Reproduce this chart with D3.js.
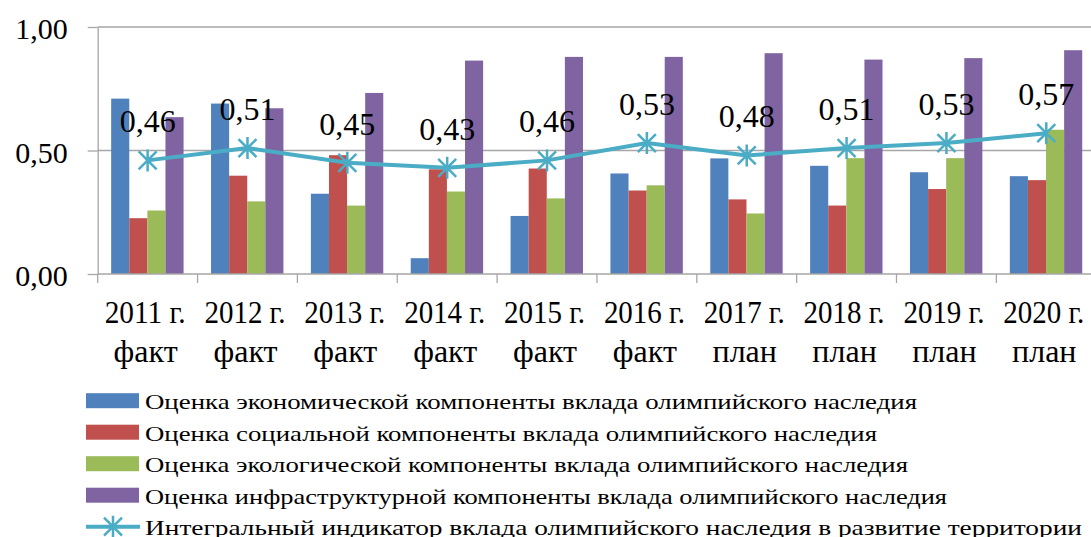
<!DOCTYPE html>
<html>
<head>
<meta charset="utf-8">
<script src="https://cdn.jsdelivr.net/npm/d3@7"></script>
<style>
  body { margin: 0; background: #fff; }
</style>
</head>
<body>
<div id="chart"></div>
<script>
const years = ['2011 г.', '2012 г.', '2013 г.', '2014 г.', '2015 г.', '2016 г.', '2017 г.', '2018 г.', '2019 г.', '2020 г.'];
const status = ['факт', 'факт', 'факт', 'факт', 'факт', 'факт', 'план', 'план', 'план', 'план'];

const econ = [0.71, 0.69, 0.325, 0.064, 0.235, 0.407, 0.468, 0.438, 0.412, 0.396];
const social = [0.226, 0.398, 0.481, 0.424, 0.427, 0.338, 0.302, 0.277, 0.344, 0.38];
const ecology = [0.257, 0.294, 0.277, 0.334, 0.306, 0.359, 0.245, 0.469, 0.469, 0.584];
const infra = [0.635, 0.671, 0.733, 0.864, 0.879, 0.879, 0.894, 0.868, 0.874, 0.906];
const integral = [0.46, 0.51, 0.45, 0.43, 0.46, 0.53, 0.48, 0.51, 0.53, 0.57];

const yTicks = [0, 0.5, 1];

const seriesNames = [
  'Оценка экономической компоненты вклада олимпийского наследия',
  'Оценка социальной компоненты вклада олимпийского наследия',
  'Оценка экологической компоненты вклада олимпийского наследия',
  'Оценка инфраструктурной компоненты вклада олимпийского наследия'
];
const lineName = 'Интегральный индикатор вклада олимпийского наследия в развитие территории';

const colors = ['#4f81bd', '#c0504d', '#9bbb59', '#8064a2'];
const lineColor = '#4bacc6';
const bars = [econ, social, ecology, infra];

const W = 1091, H = 537;
const FONT = '"Liberation Serif"';
const margin = { top: 27, left: 97.7, bottom: 274 };
const plotRight = 1096.2;
const comma = d => d3.format('.2f')(d).replace('.', ',');

const svg = d3.select('#chart').append('svg')
  .attr('width', W)
  .attr('height', H);

const x0 = d3.scaleBand()
  .domain(d3.range(years.length))
  .range([margin.left, plotRight]);

const x1 = d3.scaleBand()
  .domain(d3.range(bars.length))
  .range([x0.bandwidth() * 0.135, x0.bandwidth() * 0.86]);

const y = d3.scaleLinear()
  .domain([0, 1])
  .range([margin.bottom, margin.top]);

// gridlines
svg.append('g')
  .selectAll('line')
  .data(yTicks.filter(d => d > 0))
  .enter().append('line')
  .attr('x1', margin.left)
  .attr('x2', W)
  .attr('y1', d => y(d))
  .attr('y2', d => y(d))
  .attr('stroke', '#a6a6a6')
  .attr('stroke-width', 1.3);

// bars
bars.forEach((vals, s) => {
  svg.append('g')
    .selectAll('rect')
    .data(vals)
    .enter().append('rect')
    .attr('x', (d, i) => x0(i) + x1(s))
    .attr('y', d => y(d))
    .attr('width', x1.bandwidth())
    .attr('height', d => y(0) - y(d))
    .attr('fill', colors[s]);
});

// y axis
const yAxis = svg.append('g')
  .attr('transform', `translate(${margin.left},0)`)
  .call(d3.axisLeft(y)
    .tickValues(yTicks)
    .tickFormat(comma)
    .tickSizeInner(10)
    .tickSizeOuter(0)
    .tickPadding(20));
yAxis.select('.domain').attr('stroke', '#a6a6a6').attr('stroke-width', 1.3);
yAxis.selectAll('line').attr('stroke', '#a6a6a6').attr('stroke-width', 1.3);
yAxis.selectAll('text')
  .style('font-family', FONT)
  .attr('font-size', 30)
  .attr('fill', '#000')
  .attr('dy', '0.39em');

// x axis
const xAxis = svg.append('g')
  .attr('transform', `translate(0,${margin.bottom})`);
xAxis.append('line')
  .attr('x1', margin.left)
  .attr('x2', W)
  .attr('stroke', '#a6a6a6')
  .attr('stroke-width', 1.3);
xAxis.selectAll('.tk')
  .data(d3.range(years.length + 1))
  .enter().append('line')
  .attr('class', 'tk')
  .attr('x1', i => margin.left + i * x0.step())
  .attr('x2', i => margin.left + i * x0.step())
  .attr('y1', 0)
  .attr('y2', 9)
  .attr('stroke', '#a6a6a6')
  .attr('stroke-width', 1.3);

const catLabels = svg.append('g');
catLabels.selectAll('.yr')
  .data(years)
  .enter().append('text')
  .attr('class', 'yr')
  .attr('x', (d, i) => x0(i) + x0.bandwidth() / 2 - 2.5)
  .attr('y', 323)
  .attr('text-anchor', 'middle')
  .style('font-family', FONT)
  .attr('font-size', 32)
  .attr('textLength', 81)
  .attr('lengthAdjust', 'spacingAndGlyphs')
  .text(d => d);
catLabels.selectAll('.st')
  .data(status)
  .enter().append('text')
  .attr('class', 'st')
  .attr('x', (d, i) => x0(i) + x0.bandwidth() / 2 - 2)
  .attr('y', 362)
  .attr('text-anchor', 'middle')
  .style('font-family', FONT)
  .attr('font-size', 32)
  .text(d => d);

// integral line
const cx = i => x0(i) + x0.bandwidth() / 2;
const line = d3.line()
  .x((d, i) => cx(i))
  .y(d => y(d));

svg.append('path')
  .datum(integral)
  .attr('fill', 'none')
  .attr('stroke', lineColor)
  .attr('stroke-width', 4)
  .attr('stroke-linejoin', 'round')
  .attr('d', line);

const starPath = 'M-9,-9L9,9M-9,9L9,-9M0,-11L0,11';
svg.append('g')
  .selectAll('path')
  .data(integral)
  .enter().append('path')
  .attr('transform', (d, i) => `translate(${cx(i)},${y(d)})`)
  .attr('d', starPath)
  .attr('stroke', lineColor)
  .attr('stroke-width', 2.5)
  .attr('fill', 'none');

svg.append('g')
  .selectAll('text')
  .data(integral)
  .enter().append('text')
  .attr('x', (d, i) => cx(i))
  .attr('y', d => y(d) - 28)
  .attr('text-anchor', 'middle')
  .style('font-family', FONT)
  .attr('font-size', 32)
  .attr('fill', '#000')
  .text(comma);

// legend
const legend = svg.append('g').attr('transform', 'translate(86,0)');
const legendWidths = [772, 732, 763, 802];
seriesNames.forEach((name, i) => {
  const cy = 400.7 + i * 31.5;
  legend.append('rect')
    .attr('x', 0)
    .attr('y', cy - 7.5)
    .attr('width', 53)
    .attr('height', 15)
    .attr('fill', colors[i]);
  legend.append('text')
    .attr('x', 59)
    .attr('y', cy + 8.3)
    .style('font-family', FONT)
    .attr('font-size', 22)
    .attr('fill', '#000')
    .attr('textLength', legendWidths[i])
    .attr('lengthAdjust', 'spacingAndGlyphs')
    .text(name);
});
const ly = 400.7 + 4 * 31.5;
legend.append('line')
  .attr('x1', 0).attr('x2', 54)
  .attr('y1', ly).attr('y2', ly)
  .attr('stroke', lineColor)
  .attr('stroke-width', 4);
legend.append('path')
  .attr('transform', `translate(27,${ly})`)
  .attr('d', starPath)
  .attr('stroke', lineColor)
  .attr('stroke-width', 2.5)
  .attr('fill', 'none');
legend.append('text')
  .attr('x', 59)
  .attr('y', ly + 8.3)
  .style('font-family', FONT)
  .attr('font-size', 22)
  .attr('fill', '#000')
  .attr('textLength', 937)
  .attr('lengthAdjust', 'spacingAndGlyphs')
  .text(lineName);
</script>
</body>
</html>
